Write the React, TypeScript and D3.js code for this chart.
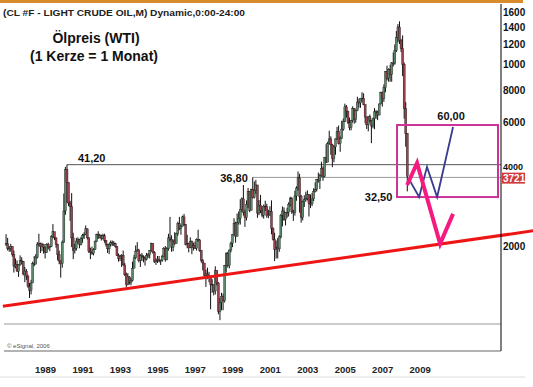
import * as d3 from 'd3';

// monthly candles, Jul 1987 .. Dec 2008 (open = previous close)
const startYear = 1987;
const startMonth = 6; // July
const firstOpen = 20.3;

const closes = [
  20.4, 19.6, 19.6, 19.96, 18.5, 16.7, // 1987 Jul-Dec
  17.0, 16.0, 16.9, 17.6, 17.4, 15.6, 16.0, 15.3, 14.0, 13.5, 14.4, 17.1, // 1988
  17.0, 18.1, 20.3, 20.4, 19.9, 20.3, 19.8, 18.9, 20.3, 19.7, 19.9, 21.8, // 1989
  22.7, 21.5, 20.3, 18.5, 17.5, 17.1, 20.7, 27.3, 39.5, 35.2, 29.3, 28.4, // 1990
  21.5, 19.2, 19.6, 20.9, 21.2, 20.3, 21.4, 22.0, 22.2, 23.3, 21.5, 19.1, // 1991
  18.9, 18.7, 19.4, 20.8, 22.1, 21.6, 21.9, 21.4, 21.9, 21.0, 20.3, 19.5, // 1992
  20.3, 20.6, 20.4, 20.4, 19.9, 18.4, 17.9, 18.2, 18.4, 16.9, 15.5, 14.2, // 1993
  15.2, 14.5, 14.7, 16.4, 18.0, 19.1, 19.3, 17.6, 18.4, 18.2, 18.1, 17.8, // 1994
  18.4, 18.5, 19.2, 20.4, 18.9, 17.4, 17.6, 17.8, 17.5, 17.6, 18.2, 19.6, // 1995
  17.7, 19.5, 21.5, 21.2, 19.8, 20.9, 20.4, 22.3, 24.4, 23.4, 23.8, 25.9, // 1996
  24.2, 20.3, 20.4, 19.7, 20.8, 19.8, 20.1, 19.6, 21.2, 21.1, 19.2, 17.6, // 1997
  17.2, 15.4, 15.6, 15.4, 15.2, 14.2, 14.2, 13.4, 16.1, 14.4, 11.2, 12.1, // 1998
  12.8, 12.3, 16.8, 18.7, 16.8, 19.3, 20.5, 22.1, 24.5, 21.8, 24.6, 25.6, // 1999
  27.6, 30.4, 26.9, 25.7, 29.0, 32.5, 27.4, 33.1, 30.8, 32.7, 34.4, 26.8, // 2000
  28.7, 27.4, 26.3, 28.5, 28.4, 26.3, 26.4, 27.2, 23.4, 21.2, 19.4, 19.8, // 2001
  19.5, 21.7, 26.3, 27.3, 25.3, 26.9, 27.0, 28.9, 30.5, 27.2, 26.9, 31.2, // 2002
  33.5, 36.6, 31.0, 25.8, 29.6, 30.2, 30.5, 31.6, 29.2, 29.1, 30.4, 32.5, // 2003
  33.1, 36.2, 35.8, 37.4, 39.9, 37.1, 43.8, 42.1, 49.6, 51.8, 49.1, 43.5, // 2004
  48.2, 51.8, 55.4, 49.7, 52.0, 56.5, 60.6, 68.9, 66.2, 59.8, 57.3, 61.0, // 2005
  67.9, 61.4, 66.6, 71.9, 71.3, 74.0, 74.4, 70.3, 62.9, 58.7, 63.1, 61.1, // 2006
  58.1, 62.0, 65.9, 65.7, 64.0, 70.7, 78.2, 74.0, 81.7, 94.5, 88.7, 96.0, // 2007
  91.8, 101.8, 101.6, 113.5, 127.4, 140.0, 124.1, 115.5, 100.6, 67.8, 54.4, 37.21, // 2008
];

const highs = [
  22.2, 21.5, 20.0, 20.4, 19.9, 19.2,
  17.9, 17.6, 17.0, 18.4, 18.1, 17.5, 16.6, 16.3, 15.5, 14.4, 14.8, 17.4,
  18.3, 18.6, 20.7, 22.3, 20.6, 20.6, 20.4, 19.9, 20.5, 20.6, 20.0, 22.0,
  24.3, 22.6, 21.6, 20.4, 19.2, 17.6, 21.0, 31.9, 40.4, 41.2, 35.2, 29.9,
  32.0, 22.5, 20.4, 21.5, 21.6, 21.3, 21.7, 22.3, 22.6, 24.0, 23.4, 21.6,
  19.7, 19.9, 19.6, 21.0, 22.3, 22.8, 22.3, 22.1, 22.3, 22.3, 21.1, 20.4,
  20.5, 21.0, 21.0, 20.9, 20.6, 20.0, 18.7, 18.5, 18.6, 19.2, 17.2, 15.8,
  15.7, 15.3, 15.1, 17.4, 18.5, 20.1, 20.7, 19.5, 18.6, 18.8, 18.4, 18.2,
  18.8, 18.8, 19.3, 20.6, 20.5, 19.1, 17.9, 18.3, 18.3, 17.7, 18.5, 19.8,
  20.0, 19.8, 22.3, 25.9, 22.0, 21.2, 22.6, 22.5, 24.8, 25.9, 24.2, 26.2,
  26.6, 24.3, 22.1, 20.6, 21.6, 21.0, 20.6, 20.8, 21.4, 23.1, 21.3, 19.3,
  17.8, 17.1, 16.2, 16.5, 15.9, 15.3, 14.9, 14.2, 16.7, 16.0, 14.5, 12.6,
  13.2, 13.1, 16.9, 18.9, 19.0, 19.4, 20.8, 22.2, 25.6, 24.8, 26.7, 27.2,
  30.3, 30.8, 34.4, 27.6, 30.0, 33.5, 32.6, 33.3, 36.8, 35.5, 36.0, 34.4,
  30.1, 31.5, 28.5, 28.9, 29.9, 29.1, 27.6, 28.5, 30.0, 23.6, 22.5, 21.0,
  21.5, 22.0, 26.6, 28.4, 28.2, 27.0, 28.1, 29.5, 31.0, 30.9, 27.6, 32.7,
  34.0, 38.8, 38.0, 31.5, 29.9, 31.4, 32.4, 32.8, 31.6, 31.6, 32.1, 33.4,
  35.2, 36.3, 38.4, 38.0, 42.3, 40.6, 44.0, 49.4, 50.5, 55.7, 53.0, 49.6,
  49.0, 52.0, 57.6, 58.3, 53.0, 60.9, 62.1, 70.85, 70.0, 66.6, 62.6, 61.3,
  69.2, 68.2, 67.2, 75.35, 74.1, 74.3, 78.4, 77.7, 70.3, 63.0, 63.2, 64.3,
  61.4, 62.6, 68.1, 66.9, 66.6, 70.7, 78.8, 78.8, 84.1, 94.7, 99.3, 97.0,
  100.1, 102.6, 111.8, 119.9, 135.1, 143.7, 147.27, 126.0, 130.0, 102.1, 71.8, 54.6,
];

const lows = [
  20.0, 19.2, 19.0, 19.0, 18.2, 15.8,
  16.4, 15.9, 15.2, 16.8, 17.0, 15.4, 14.5, 14.8, 13.8, 12.6, 13.0, 14.8,
  16.7, 17.2, 17.9, 19.9, 18.8, 19.1, 18.7, 17.9, 18.8, 19.4, 19.1, 19.8,
  21.4, 21.1, 19.7, 17.6, 17.0, 15.1, 16.5, 20.6, 26.4, 29.3, 28.5, 25.0,
  19.8, 17.8, 18.7, 19.2, 20.4, 19.6, 20.1, 20.6, 21.3, 22.1, 21.2, 18.8,
  17.8, 18.5, 18.4, 19.3, 20.7, 21.3, 21.4, 21.0, 21.2, 20.6, 19.9, 18.8,
  18.6, 19.9, 20.0, 20.0, 19.7, 18.3, 17.4, 17.5, 16.6, 16.8, 15.3, 13.85,
  14.1, 14.2, 14.1, 14.6, 16.5, 17.8, 19.1, 17.3, 16.6, 17.5, 17.3, 16.8,
  17.6, 18.0, 17.9, 19.0, 18.7, 17.2, 16.9, 17.2, 17.3, 16.9, 17.4, 18.1,
  17.4, 17.6, 19.2, 20.8, 19.0, 19.1, 20.2, 20.6, 21.9, 23.0, 22.1, 23.9,
  23.9, 20.1, 19.6, 18.9, 19.6, 18.6, 19.2, 19.5, 19.2, 20.8, 19.0, 17.3,
  16.1, 15.3, 13.9, 14.9, 14.5, 11.4, 13.2, 12.9, 13.0, 14.1, 10.9, 10.35,
  11.3, 11.3, 12.1, 15.8, 16.5, 16.4, 18.9, 19.8, 21.9, 20.6, 21.8, 24.2,
  24.2, 27.0, 26.2, 23.7, 25.1, 28.0, 27.0, 27.5, 30.5, 30.5, 31.8, 25.7,
  26.3, 26.8, 25.8, 25.5, 27.3, 25.7, 25.6, 26.1, 22.2, 21.0, 17.5, 17.9,
  17.9, 19.0, 21.4, 23.8, 25.0, 24.0, 25.7, 26.0, 28.4, 26.6, 25.0, 26.2,
  29.9, 32.7, 26.9, 24.6, 25.1, 28.3, 29.7, 30.0, 26.0, 28.0, 28.5, 29.8,
  32.2, 32.5, 35.1, 33.2, 37.0, 35.7, 36.8, 41.9, 42.3, 49.3, 45.0, 40.3,
  42.1, 45.0, 51.3, 49.3, 46.2, 51.8, 55.7, 60.2, 62.6, 59.1, 55.9, 55.9,
  59.9, 59.3, 59.8, 66.3, 68.4, 68.3, 72.0, 69.9, 59.5, 56.6, 55.4, 59.9,
  49.9, 56.9, 56.5, 61.9, 61.2, 64.2, 70.4, 69.0, 72.0, 78.4, 87.1, 86.1,
  86.1, 86.1, 98.6, 100.1, 112.1, 122.0, 120.4, 112.2, 90.5, 62.0, 48.3, 32.5,
];

// axes
const yTicks = [20, 40, 60, 80, 100, 120, 140, 160];
const yTickLabels = ['2000', '4000', '6000', '8000', '1000', '1200', '1400', '1600'];
const yearLabels = [1989, 1991, 1993, 1995, 1997, 1999, 2001, 2003, 2005, 2007, 2009];
const lastPrice = 37.21;
const lastPriceLabel = '3721';
const baseLevel = 10;

// drawn annotations (time in fractional years, price in USD)
const resistanceHigh = { t: 1990.79, v: 41.2, label: '41,20' };
const resistanceLow = { t: 2000.71, v: 36.8, label: '36,80' };
const lowLabel = { t: 2008.96, v: 32.5, label: '32,50' };
const targetLabel = '60,00';
const trendLine = [
  { t: 1987.37, v: 11.7 },
  { t: 2015.7, v: 22.9 },
];
const boxT = [2008.41, 2013.8];
const boxV = [30.9, 58.6];
const bluePath = [
  { t: 2009.11, v: 35.6 },
  { t: 2009.59, v: 30.9 },
  { t: 2010.01, v: 40.4 },
  { t: 2010.55, v: 30.9 },
  { t: 2011.4, v: 57.6 },
];
const pinkPath = [
  { t: 2008.95, v: 34.4 },
  { t: 2009.48, v: 41.8 },
  { t: 2010.71, v: 20.4 },
  { t: 2011.4, v: 26.6 },
];

const W = 533;
const H = 387;
const font = 'Liberation Sans, Arial, Helvetica, sans-serif';

const App = () => {
  const x = d3.scaleLinear().domain([1987.43, 2013.96]).range([4, 501]);
  const y = d3.scaleLog().domain([10, 160]).range([324, 12]);
  const axisX = 501;
  const frameBottom = 351;

  const candles = closes.map((c, i) => ({
    t: startYear + (startMonth + i + 0.5) / 12,
    o: i === 0 ? firstOpen : closes[i - 1],
    h: highs[i],
    l: lows[i],
    c,
  }));

  const line = d3
    .line<{ t: number; v: number }>()
    .x((d) => x(d.t))
    .y((d) => y(d.v));

  const blueEnd = bluePath[bluePath.length - 1];

  return (
    <svg
      width={W}
      height={H}
      style={{ position: 'absolute', left: 0, top: 0, background: '#fff' }}
      fontFamily={font}
    >
      <rect x={0} y={0} width={523} height={3} fill="#d98c2e" />
      <text x={3} y={16} fontSize={9} fontWeight="bold" fill="#222" textLength={242} lengthAdjust="spacingAndGlyphs">
        (CL #F - LIGHT CRUDE OIL,M) Dynamic,0:00-24:00
      </text>

      <text x={96} y={43} fontSize={14} fontWeight="bold" textAnchor="middle" fill="#111">
        Ölpreis (WTI)
      </text>
      <text x={94} y={61} fontSize={14} fontWeight="bold" textAnchor="middle" fill="#111">
        (1 Kerze = 1 Monat)
      </text>

      {/* level lines */}
      <line x1={4} x2={axisX} y1={y(baseLevel)} y2={y(baseLevel)} stroke="#999" />
      <line
        x1={x(resistanceHigh.t)}
        x2={axisX}
        y1={y(resistanceHigh.v)}
        y2={y(resistanceHigh.v)}
        stroke="#555"
      />
      <line
        x1={x(resistanceLow.t)}
        x2={axisX}
        y1={y(resistanceLow.v)}
        y2={y(resistanceLow.v)}
        stroke="#999"
      />

      {/* candles */}
      {candles.map((d, i) => {
        const cx = x(d.t);
        const top = y(Math.max(d.o, d.c));
        const bot = y(Math.min(d.o, d.c));
        return (
          <g key={i}>
            <line x1={cx} x2={cx} y1={y(d.h)} y2={y(d.l)} stroke="#111" strokeWidth={1} />
            <rect
              x={cx - 1}
              y={top}
              width={2}
              height={Math.max(bot - top, 0.8)}
              fill={d.c >= d.o ? '#5a8a6a' : '#a0404e'}
              stroke="#1a1a1a"
              strokeWidth={0.4}
            />
          </g>
        );
      })}

      {/* trend line */}
      <path d={line(trendLine) as string} stroke="#ee1515" strokeWidth={3} fill="none" />

      {/* projection */}
      <rect
        x={x(boxT[0])}
        y={y(boxV[1])}
        width={x(boxT[1]) - x(boxT[0])}
        height={y(boxV[0]) - y(boxV[1])}
        fill="none"
        stroke="#cc3399"
        strokeWidth={2}
      />
      <path d={line(bluePath) as string} stroke="#3b3b8f" strokeWidth={1.8} fill="none" />
      <path
        d={line(pinkPath) as string}
        stroke="#f41a80"
        strokeWidth={4}
        fill="none"
        strokeLinejoin="miter"
      />

      {/* annotations */}
      <text x={x(resistanceHigh.t) + 11} y={y(resistanceHigh.v) - 3} fontSize={11} fontWeight="bold" fill="#111">
        {resistanceHigh.label}
      </text>
      <text x={x(resistanceLow.t) - 5} y={y(resistanceLow.v) + 5} fontSize={11} fontWeight="bold" textAnchor="end" fill="#111">
        {resistanceLow.label}
      </text>
      <text x={x(lowLabel.t) - 15} y={y(lowLabel.v) + 10} fontSize={11} fontWeight="bold" textAnchor="end" fill="#111">
        {lowLabel.label}
      </text>
      <text x={x(blueEnd.t) - 2} y={y(blueEnd.v) - 7} fontSize={11} fontWeight="bold" textAnchor="middle" fill="#111">
        {targetLabel}
      </text>

      {/* frame */}
      <line x1={axisX} x2={axisX} y1={4} y2={frameBottom} stroke="#000" />
      <line x1={4} x2={axisX} y1={frameBottom} y2={frameBottom} stroke="#666" />
      <line x1={0} x2={525} y1={377} y2={377} stroke="#ddd" />

      {/* right axis labels */}
      {yTicks.map((v, i) => (
        <text
          key={v}
          x={axisX + 2}
          y={y(v) - (v === 40 ? 1 : 0)}
          dy="0.35em"
          fontSize={v === 40 ? 9 : 10}
          fontWeight="bold"
          fill="#111"
        >
          {yTickLabels[i]}
        </text>
      ))}
      <rect x={axisX + 1} y={y(lastPrice) - 3.5} width={23} height={11} fill="#d23a3a" />
      <text
        x={axisX + 2}
        y={y(lastPrice) + 2}
        dy="0.35em"
        fontSize={10}
        fontWeight="bold"
        fill="#fff"
      >
        {lastPriceLabel}
      </text>

      {/* year labels */}
      {yearLabels.map((yr) => (
        <text key={yr} x={x(yr) + 1.5} y={373} fontSize={9.5} fontWeight="bold" fill="#222">
          {yr}
        </text>
      ))}

      <text x={7} y={348} fontSize={6} fill="#555">
        © eSignal, 2006
      </text>
    </svg>
  );
};

export default App;
